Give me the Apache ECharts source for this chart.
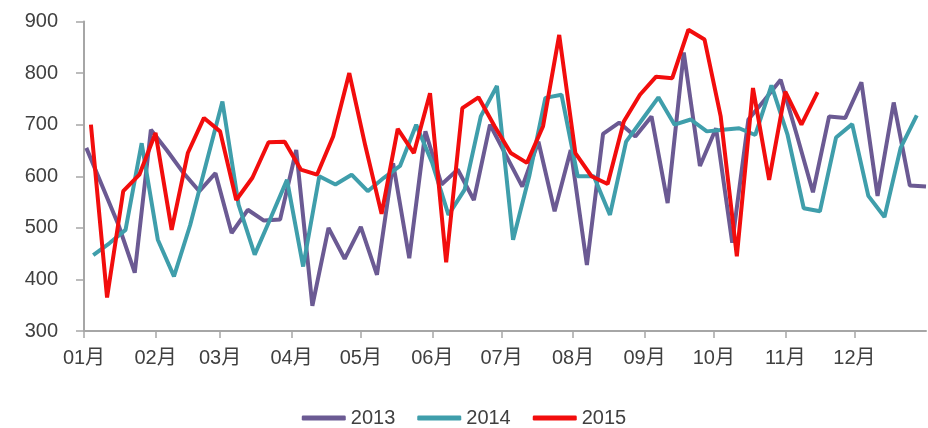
<!DOCTYPE html>
<html>
<head>
<meta charset="utf-8">
<script src="https://cdn.jsdelivr.net/npm/echarts@6/dist/echarts.min.js"></script>
<style>
  html, body { margin: 0; padding: 0; background: #fff; }
  #chart-panel { width: 928px; height: 428px; }
</style>
</head>
<body>
<div id="chart-panel"></div>
<script>
// month ticks (day of year where each month starts)
var monthLabels = ['01月', '02月', '03月', '04月', '05月', '06月', '07月', '08月', '09月', '10月', '11月', '12月'];
var monthStartDays = [0, 31, 59, 90, 120, 151, 181, 212, 243, 273, 304, 334];

// weekly readings, first week starts at the given day of year
var start2013 = 1;
var values2013 = [655, 580, 505, 413, 690, 650, 607, 571, 606, 490, 535, 514, 516, 651, 349, 500, 440, 502,
    409, 625, 441, 687, 584, 613, 554, 700, 640, 580, 667, 532, 651, 428, 682, 704, 677, 716, 548, 840,
    620, 693, 471, 710, 748, 787, 680, 569, 716, 713, 782, 562, 743, 582, 580];

var start2014 = 4;
var values2014 = [447, 470, 496, 664, 477, 406, 505, 625, 745, 545, 448, 520, 593, 425, 600, 584, 603, 571,
    597, 620, 700, 625, 525, 574, 716, 775, 477, 600, 752, 758, 600, 600, 525, 667, 710, 753, 700, 710,
    687, 690, 693, 680, 776, 680, 538, 532, 675, 701, 562, 521, 655, 718];

var start2015 = 3;
var values2015 = [700, 365, 571, 603, 684, 496, 645, 713, 687, 554, 597, 666, 667, 613, 603, 677, 800, 658,
    527, 692, 645, 761, 433, 732, 753, 697, 645, 626, 697, 874, 645, 600, 585, 706, 758, 793, 790, 884,
    865, 716, 445, 771, 593, 764, 700, 763];

function weekly(start, values) {
    return values.map(function (v, i) {
        return [start + 7 * i, v];
    });
}

var myChart = echarts.init(document.getElementById('chart-panel'));

var labelFont = '"Liberation Sans", "Noto Sans CJK SC", sans-serif';

myChart.setOption(option = {
    backgroundColor: '#ffffff',
    animation: false,
    color: ['#6b5a93', '#3f9eab', '#f20d0d'],
    grid: {
        left: 84,
        right: 2,
        top: 21.5,
        bottom: 97
    },
    legend: {
        top: 403,
        left: 'center',
        icon: 'roundRect',
        itemWidth: 44,
        itemHeight: 5,
        itemGap: 22,
        textStyle: {
            color: '#404040',
            fontSize: 20,
            fontFamily: labelFont
        },
        data: ['2013', '2014', '2015']
    },
    xAxis: {
        type: 'value',
        min: 0,
        max: 365,
        splitLine: { show: false },
        axisLine: {
            show: true,
            lineStyle: { color: '#a6a6a6', width: 2 }
        },
        axisTick: {
            show: true,
            length: 7,
            customValues: monthStartDays,
            lineStyle: { color: '#a6a6a6', width: 1.5 }
        },
        axisLabel: {
            customValues: monthStartDays,
            margin: 17,
            color: '#404040',
            fontSize: 20,
            fontFamily: labelFont,
            formatter: function (val) {
                var idx = monthStartDays.indexOf(val);
                return idx >= 0 ? monthLabels[idx] : '';
            }
        }
    },
    yAxis: {
        type: 'value',
        min: 300,
        max: 900,
        interval: 100,
        splitLine: { show: false },
        axisLine: {
            show: true,
            lineStyle: { color: '#a6a6a6', width: 2 }
        },
        axisTick: {
            show: true,
            length: 8,
            lineStyle: { color: '#a6a6a6', width: 1.5 }
        },
        axisLabel: {
            margin: 26,
            color: '#404040',
            fontSize: 20,
            fontFamily: labelFont
        }
    },
    series: [
        {
            name: '2013',
            type: 'line',
            symbol: 'none',
            lineStyle: { width: 4 },
            data: weekly(start2013, values2013)
        },
        {
            name: '2014',
            type: 'line',
            symbol: 'none',
            lineStyle: { width: 4 },
            data: weekly(start2014, values2014)
        },
        {
            name: '2015',
            type: 'line',
            symbol: 'none',
            lineStyle: { width: 4 },
            data: weekly(start2015, values2015)
        }
    ]
});
</script>
</body>
</html>
